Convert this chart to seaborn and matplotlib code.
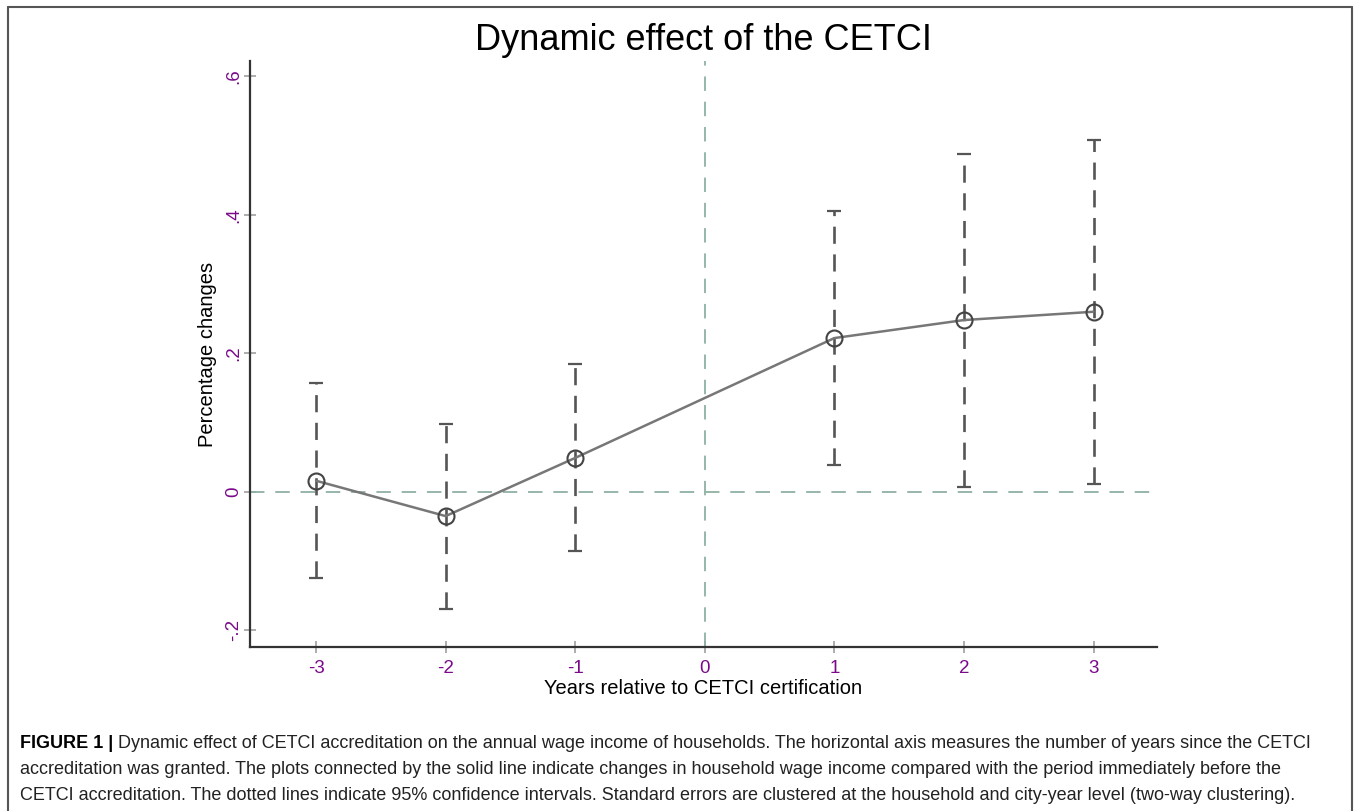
import matplotlib
matplotlib.use("Agg")
import matplotlib.pyplot as plt
import seaborn as sns
import pandas as pd
import numpy as np
from matplotlib.lines import Line2D

# event-study estimates
years = [-3, -2, -1, 1, 2, 3]
coef = [0.016, -0.035, 0.049, 0.222, 0.248, 0.260]
ci_low = [-0.124, -0.169, -0.085, 0.039, 0.007, 0.012]
ci_high = [0.157, 0.098, 0.185, 0.406, 0.488, 0.508]

xticks = [-3, -2, -1, 0, 1, 2, 3]
yticks = [-0.2, 0, 0.2, 0.4, 0.6]
ytick_labels = ["-.2", "0", ".2", ".4", ".6"]

title = "Dynamic effect of the CETCI"
xlabel = "Years relative to CETCI certification"
ylabel = "Percentage changes"
caption_bold = "FIGURE 1 | "
caption_lines = [
    "Dynamic effect of CETCI accreditation on the annual wage income of households. The horizontal axis measures the number of years since the CETCI",
    "accreditation was granted. The plots connected by the solid line indicate changes in household wage income compared with the period immediately before the",
    "CETCI accreditation. The dotted lines indicate 95% confidence intervals. Standard errors are clustered at the household and city-year level (two-way clustering).",
]

df = pd.DataFrame({"year": years, "coef": coef, "lo": ci_low, "hi": ci_high})

sns.set_style("white")
plt.rcParams["font.family"] = ["Liberation Sans", "DejaVu Sans"]
plt.rcParams["text.color"] = "black"
plt.rcParams["axes.labelcolor"] = "black"

W, H = 1357, 811
fig = plt.figure(figsize=(W / 100, H / 100), dpi=100)
ax = fig.add_axes([250 / W, 1 - 647 / H, (1157 - 250) / W, (647 - 61) / H])

ref_col = "#8fb0a3"
ax.axhline(0, color=ref_col, lw=1.3, ls=(0, (8, 6)), zorder=1)
ax.axvline(0, color=ref_col, lw=1.3, ls=(0, (8, 6)), zorder=1)

# confidence intervals: dashed vertical lines with caps
err = [df["coef"] - df["lo"], df["hi"] - df["coef"]]
eb = ax.errorbar(df["year"], df["coef"], yerr=err, fmt="none", ecolor="#555555",
                 elinewidth=1.9, capsize=5, capthick=1.6, zorder=2)
for lc in eb[2]:
    lc.set_linestyle((0, (6.5, 4)))

sns.lineplot(data=df, x="year", y="coef", ax=ax, color="#777777", lw=1.8,
             marker="o", markersize=11.5, markerfacecolor="none",
             markeredgecolor="#444444", markeredgewidth=1.5, zorder=3)

ax.set_xlim(-3.51, 3.49)
ax.set_ylim(-0.224, 0.622)
ax.set_xticks(xticks)
ax.set_xticklabels([str(t) for t in xticks])
ax.set_yticks(yticks)
ax.set_yticklabels(ytick_labels, rotation=90, va="center")

tick_col = "#7a0a8a"
ax.tick_params(axis="both", direction="inout", length=9, width=1.2, color="#a0a0a0",
               labelcolor=tick_col, labelsize=13.5, bottom=True, left=True)
ax.tick_params(axis="x", pad=5)
ax.tick_params(axis="y", pad=1)
for side in ["top", "right"]:
    ax.spines[side].set_visible(False)
for side in ["left", "bottom"]:
    ax.spines[side].set_color("#333333")
    ax.spines[side].set_linewidth(1.6)

ax.set_xlabel(xlabel, fontsize=14.5, labelpad=1)
ax.set_ylabel(ylabel, fontsize=14.5, labelpad=6)
ax.set_title(title, fontsize=26, pad=0, y=1.018)

# outer frame around figure panel
for xs, ys in [([8, 1352], [7, 7]), ([8, 8], [7, H]), ([1352, 1352], [7, H])]:
    fig.add_artist(Line2D([x / W for x in xs], [1 - y / H for y in ys],
                          color="#555555", lw=1.5, transform=fig.transFigure))

# caption
cap_size = 13
fig.canvas.draw()
renderer = fig.canvas.get_renderer()
y0 = 743
t = fig.text(20 / W, 1 - y0 / H, caption_bold, fontsize=cap_size, fontweight="bold",
             va="center", ha="left")
bb = t.get_window_extent(renderer)
x_after = bb.x1 / W
fig.text(x_after, 1 - y0 / H, caption_lines[0], fontsize=cap_size,
         va="center", ha="left", color="#222222")
for i, line in enumerate(caption_lines[1:]):
    fig.text(20 / W, 1 - (y0 + 26 * (i + 1)) / H, line, fontsize=cap_size,
             va="center", ha="left", color="#222222")

fig.savefig("out.png", dpi=100)
